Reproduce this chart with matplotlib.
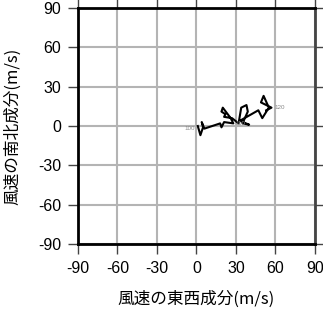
import matplotlib
matplotlib.use("Agg")
import matplotlib.pyplot as plt

plt.rcParams['font.family'] = ['Liberation Sans', 'Noto Sans CJK JP', 'DejaVu Sans']
plt.rcParams['axes.unicode_minus'] = False

u = [1, 3, 5, 4, 6, 18, 19, 21, 28, 26, 20, 19, 22, 21, 27, 32, 34, 38, 39, 35, 40, 33, 47, 50, 55, 51, 49, 57, 53]
v = [0, -7, -1, 3, -2, 2, -1, 3, 2, 6, 14, 11, 9, 7, 6, 2, 14, 16, 11, 2, 1, 4, 12, 6, 14, 23, 18, 14, 12]
label_idx = [0, 8, 27]
label_txt = ["100", "110", "120"]
ticks = [-90, -60, -30, 0, 30, 60, 90]

fig = plt.figure(figsize=(3.23, 3.13), dpi=100)
ax = fig.add_axes([0.2415, 0.2204, 0.7335, 0.754])
ax.set_xlim(-90, 90)
ax.set_ylim(-90, 90)
ax.set_xticks(ticks)
ax.set_yticks(ticks)
ax.grid(True, color='#b4b4b4', lw=1.5)
ax.set_axisbelow(True)
ax.plot(u, v, color='black', lw=1.5, zorder=3)
for i, t in zip(label_idx, label_txt):
    ax.text(u[i] + (-2 if i == 0 else 2), v[i] - (2 if i == 0 else 0), t,
            fontsize=4.5, color='#888888', ha='right' if i == 0 else 'left', va='center', zorder=4)
for s in ['left', 'bottom', 'top']:
    ax.spines[s].set_linewidth(2)
    ax.spines[s].set_color('black')
ax.spines['right'].set_linewidth(2)
ax.spines['right'].set_color('#444444')
ax.tick_params(direction='out', length=7, width=1, color='#444444', labelsize=11.5, pad=5,
               top=True, right=True, labeltop=False, labelright=False)
ax.set_xlabel('風速の東西成分(m/s)', fontsize=12, family=['Noto Sans CJK JP', 'DejaVu Sans'], labelpad=11)
ax.set_ylabel('風速の南北成分(m/s)', fontsize=12, family=['Noto Sans CJK JP', 'DejaVu Sans'], labelpad=12)
fig.savefig('out.png', dpi=100)
